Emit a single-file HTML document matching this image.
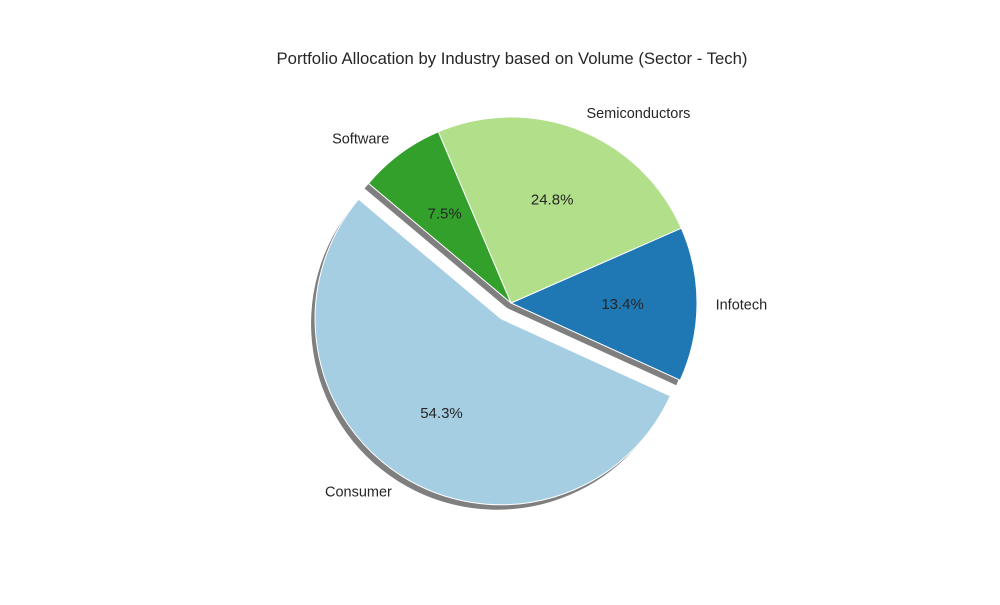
<!DOCTYPE html>
<html><head><meta charset="utf-8"><style>
body{margin:0;background:#fff;}
svg text{font-family:"Liberation Sans","DejaVu Sans",sans-serif;fill:#262626;}
</style></head><body>
<svg id="chart" width="1000" height="600">
<text x="512" y="64" text-anchor="middle" font-size="16.7">Portfolio Allocation by Industry based on Volume (Sector - Tech)</text>
<g id="shadows"></g>
<g id="wedges"></g>
<g id="labels"></g>
</svg>
<script>
const categories = ["Consumer","Infotech","Semiconductors","Software"];
const values = [54.3,13.4,24.8,7.5];
const colors = ["#a6cee3","#1f78b4","#b2df8a","#33a02c"];
const explode = [0.1,0,0,0];
const startAngle = 140;
const cx=511, cy=303, R=186;
const NS="http://www.w3.org/2000/svg";
const total=values.reduce((a,b)=>a+b,0);
function pt(x,y,r,a){const t=a*Math.PI/180;return [x+r*Math.cos(t), y-r*Math.sin(t)];}
function wedgePath(x,y,a0,a1){
  const p0=pt(x,y,R,a0), p1=pt(x,y,R,a1);
  const large=(a1-a0)>180?1:0;
  return `M${x},${y} L${p0[0]},${p0[1]} A${R},${R} 0 ${large} 0 ${p1[0]},${p1[1]} Z`;
}
let a=startAngle;
const sg=document.getElementById('shadows'), wg=document.getElementById('wedges'), lg=document.getElementById('labels');
values.forEach((v,i)=>{
  const span=v/total*360, a0=a, a1=a+span, mid=(a0+a1)/2;
  const [ex,ey]=pt(cx,cy,explode[i]*R,mid);
  const sh=document.createElementNS(NS,'path');
  sh.setAttribute('d',wedgePath(ex-4,ey+5,a0,a1));
  sh.setAttribute('fill','#000');sh.setAttribute('fill-opacity','0.5');
  
  
  sg.appendChild(sh);
  const w=document.createElementNS(NS,'path');
  w.setAttribute('d',wedgePath(ex,ey,a0,a1));
  w.setAttribute('fill',colors[i]);w.setAttribute('stroke','#fff');w.setAttribute('stroke-width','1');
  
  
  wg.appendChild(w);
  const lp=pt(ex,ey,1.1*R,mid);
  const t=document.createElementNS(NS,'text');
  t.setAttribute('x',lp[0]);t.setAttribute('y',lp[1]+5);t.setAttribute('font-size','14.5');
  t.setAttribute('text-anchor',lp[0]<ex?'end':'start');
  t.textContent=categories[i];
  
  
  lg.appendChild(t);
  const pp=pt(ex,ey,0.6*R,mid);
  const p=document.createElementNS(NS,'text');
  p.setAttribute('x',pp[0]);p.setAttribute('y',pp[1]+5);p.setAttribute('font-size','15');
  p.setAttribute('text-anchor','middle');
  p.textContent=(v/total*100).toFixed(1)+'%';
  
  
  lg.appendChild(p);
  a=a1;
});
</script>
</body></html>
